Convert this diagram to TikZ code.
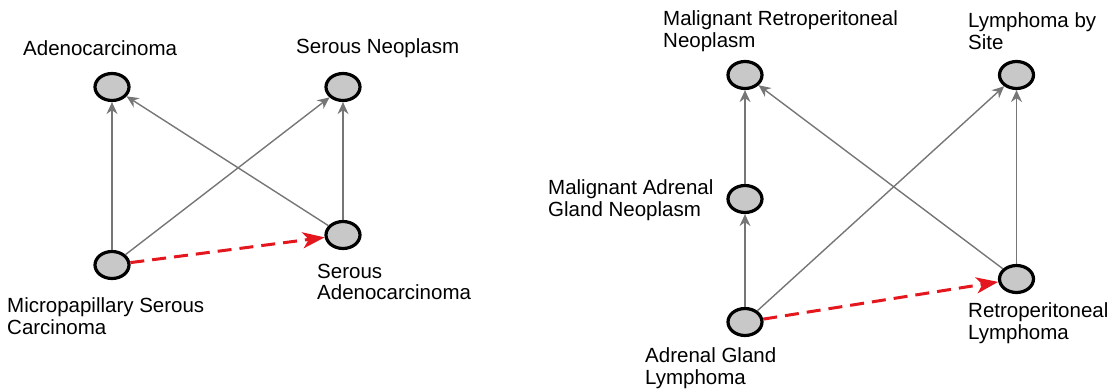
\documentclass[tikz,border=0pt]{standalone}
\usepackage{fontspec}
\setmainfont{Liberation Sans}
\usepackage{tikz}
\usetikzlibrary{positioning,arrows.meta,calc,shapes.geometric}

\definecolor{edgegray}{RGB}{118,118,118}
\definecolor{nodegray}{RGB}{200,200,200}
\definecolor{linkred}{RGB}{228,22,30}

\begin{document}
\begin{tikzpicture}[
            x=1pt, y=-1pt,
            concept/.style={ellipse, draw=black, line width=3.2pt, fill=nodegray, minimum width=34pt, minimum height=27pt, inner sep=0pt},
            lbl/.style={anchor=west, align=left, inner sep=0pt, font=\fontsize{20.5}{21.5}\selectfont},
            isa/.style={-{Stealth[length=12pt, width=11pt, inset=4pt]}, draw=edgegray, line width=1.4pt},
            newlink/.style={-{Stealth[length=22pt, width=16pt, inset=6pt]}, draw=linkred, line width=3pt, dash pattern=on 14pt off 8pt}
        ]
            \useasboundingbox (0,0) rectangle (1107,388);
            % left example
            \node[concept] (adeno) at (112,87) {};
            \node[concept] (serneo) at (343,87) {};
            \node[concept] (micro) at (112,265) {};
            \node[concept] (serade) at (343,235) {};
            \node[lbl] (adenol) at (23,48) {Adenocarcinoma};
            \node[lbl] (serneol) at (296,48) {Serous Neoplasm};
            \node[lbl] (microl) at (7,316) {Micropapillary Serous\\Carcinoma};
            \node[lbl] (seradel) at (317,282) {Serous\\Adenocarcinoma};
            \draw[isa] (micro) -- (adeno);
            \draw[isa] (micro) -- (serneo);
            \draw[isa] (serade) -- (adeno);
            \draw[isa] (serade) -- (serneo);
            \draw[newlink] (micro) -- (serade);
            % right example
            \node[concept] (mrn) at (745,75) {};
            \node[concept] (lbs) at (1016.5,75) {};
            \node[concept] (magn) at (745,199) {};
            \node[concept] (agl) at (745,322) {};
            \node[concept] (rl) at (1016.5,279) {};
            \node[lbl] (mrnl) at (663,31) {Malignant Retroperitoneal\\Neoplasm};
            \node[lbl] (lbsl) at (968,31) {Lymphoma by\\Site};
            \node[lbl] (magnl) at (548,200) {Malignant Adrenal\\Gland Neoplasm};
            \node[lbl] (agll) at (645,368) {Adrenal Gland\\Lymphoma};
            \node[lbl] (rll) at (968,323) {Retroperitoneal\\Lymphoma};
            \draw[isa] (magn) -- (mrn);
            \draw[isa] (agl) -- (magn);
            \draw[isa] (agl) -- (lbs);
            \draw[isa] (rl) -- (mrn);
            \draw[isa] (rl) -- (lbs);
            \draw[newlink] (agl) -- (rl);
        \end{tikzpicture}
\end{document}
